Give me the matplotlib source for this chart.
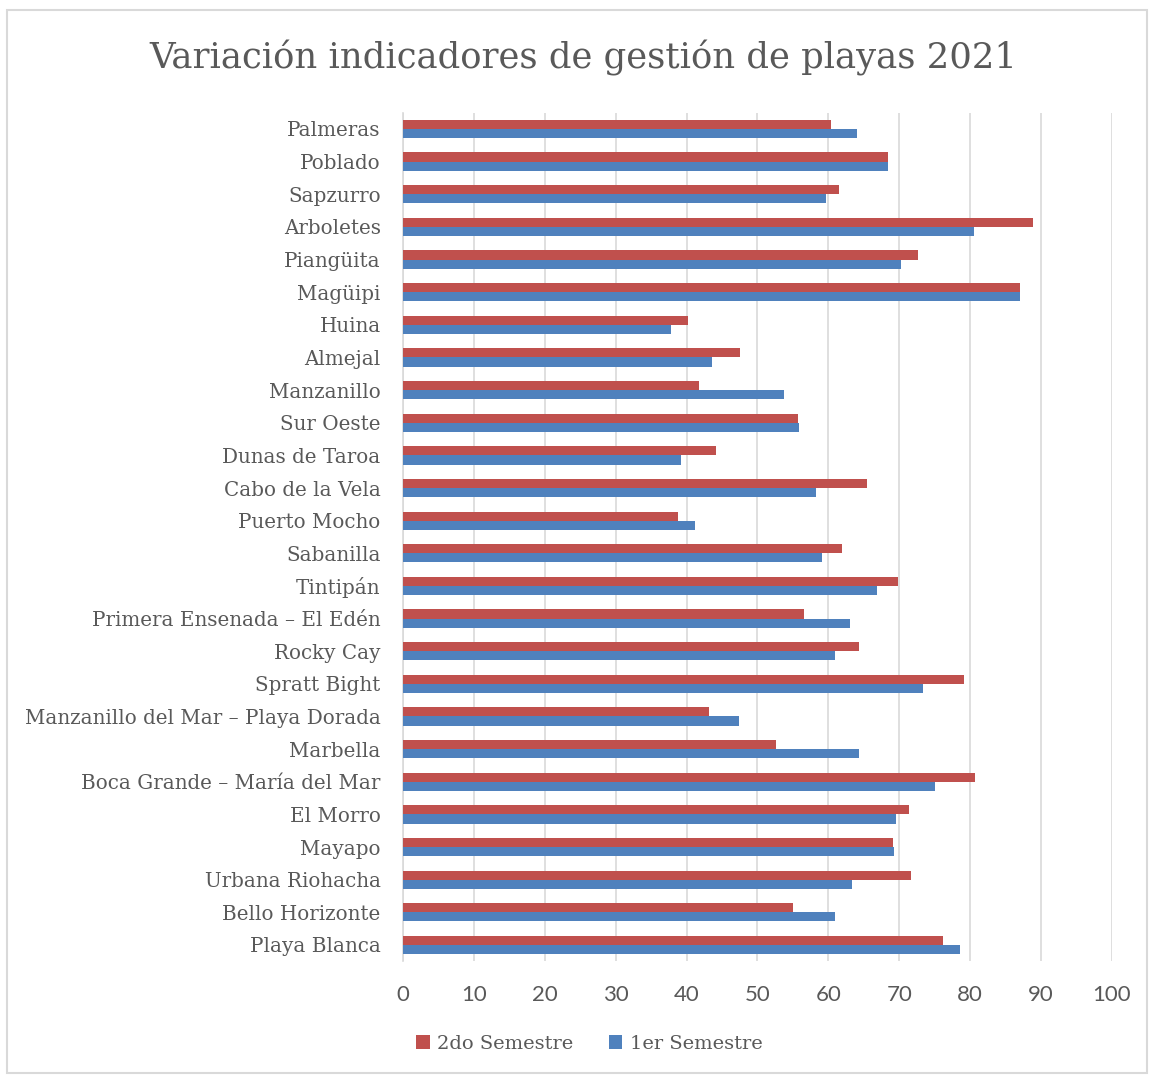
import numpy as np
import matplotlib
matplotlib.use("Agg")
from matplotlib import pyplot as plt
from matplotlib.patches import Rectangle

playas = [
    "Palmeras", "Poblado", "Sapzurro", "Arboletes", "Piangüita", "Magüipi",
    "Huina", "Almejal", "Manzanillo", "Sur Oeste", "Dunas de Taroa",
    "Cabo de la Vela", "Puerto Mocho", "Sabanilla", "Tintipán",
    "Primera Ensenada – El Edén", "Rocky Cay", "Spratt Bight",
    "Manzanillo del Mar – Playa Dorada", "Marbella",
    "Boca Grande – María del Mar", "El Morro", "Mayapo", "Urbana Riohacha",
    "Bello Horizonte", "Playa Blanca",
]

segundo_semestre = [
    60.4, 68.4, 61.5, 88.8, 72.7, 87.0, 40.2, 47.5, 41.8, 55.7, 44.1,
    65.5, 38.8, 61.9, 69.8, 56.6, 64.3, 79.1, 43.2, 52.6, 80.7, 71.3,
    69.1, 71.7, 55.0, 76.1,
]

primer_semestre = [
    64.1, 68.4, 59.7, 80.5, 70.2, 87.0, 37.8, 43.6, 53.7, 55.9, 39.2,
    58.3, 41.2, 59.1, 66.9, 63.1, 60.9, 73.3, 47.4, 64.3, 75.0, 69.5,
    69.3, 63.3, 61.0, 78.5,
]

x_ticks = list(range(0, 101, 10))

rojo = "#C0504D"
azul = "#4F81BD"
gris = "#595959"

fig = plt.figure(figsize=(11.49, 10.76), dpi=100)
ax = fig.add_axes([0.3507, 0.1066, 0.6171, 0.7887])

y = np.arange(len(playas))
h = 0.28
ax.barh(y - h / 2, segundo_semestre, height=h, color=rojo, label="2do Semestre", zorder=3)
ax.barh(y + h / 2, primer_semestre, height=h, color=azul, label="1er Semestre", zorder=3)

ax.set_xlim(0, 100)
ax.set_ylim(len(playas) - 0.5, -0.5)
ax.set_xticks(x_ticks)
ax.set_yticks(y)
ax.set_yticklabels(playas, family="DejaVu Serif", fontsize=14.3, color=gris)
for lab in ax.get_xticklabels():
    lab.set_family(["Liberation Sans Narrow", "Lato"])
    lab.set_fontsize(16)
    lab.set_color(gris)

ax.tick_params(axis="both", length=0)
ax.tick_params(axis="y", pad=16)
ax.tick_params(axis="x", pad=17)
ax.grid(axis="x", color="#D9D9D9", linewidth=1.2, zorder=0)
for s in ["top", "right", "bottom"]:
    ax.spines[s].set_visible(False)
ax.spines["left"].set_color("#D9D9D9")
ax.spines["left"].set_linewidth(1.2)

fig.text(0.508, 0.946, "Variación indicadores de gestión de playas 2021",
         ha="center", va="center", family="DejaVu Serif", fontsize=25.5, color=gris)

leg = fig.legend(loc="center", bbox_to_anchor=(0.513, 0.030), ncol=2, frameon=False,
                 prop={"family": "DejaVu Serif", "size": 14},
                 handlelength=0.7, handleheight=0.7, handletextpad=0.4, columnspacing=1.8)
for t in leg.get_texts():
    t.set_color(gris)

fig.patches.append(Rectangle((0.006, 0.003), 0.992, 0.988, transform=fig.transFigure,
                             fill=False, edgecolor="#D9D9D9", linewidth=1.5))

fig.savefig("out.png", dpi=100, facecolor="white")
